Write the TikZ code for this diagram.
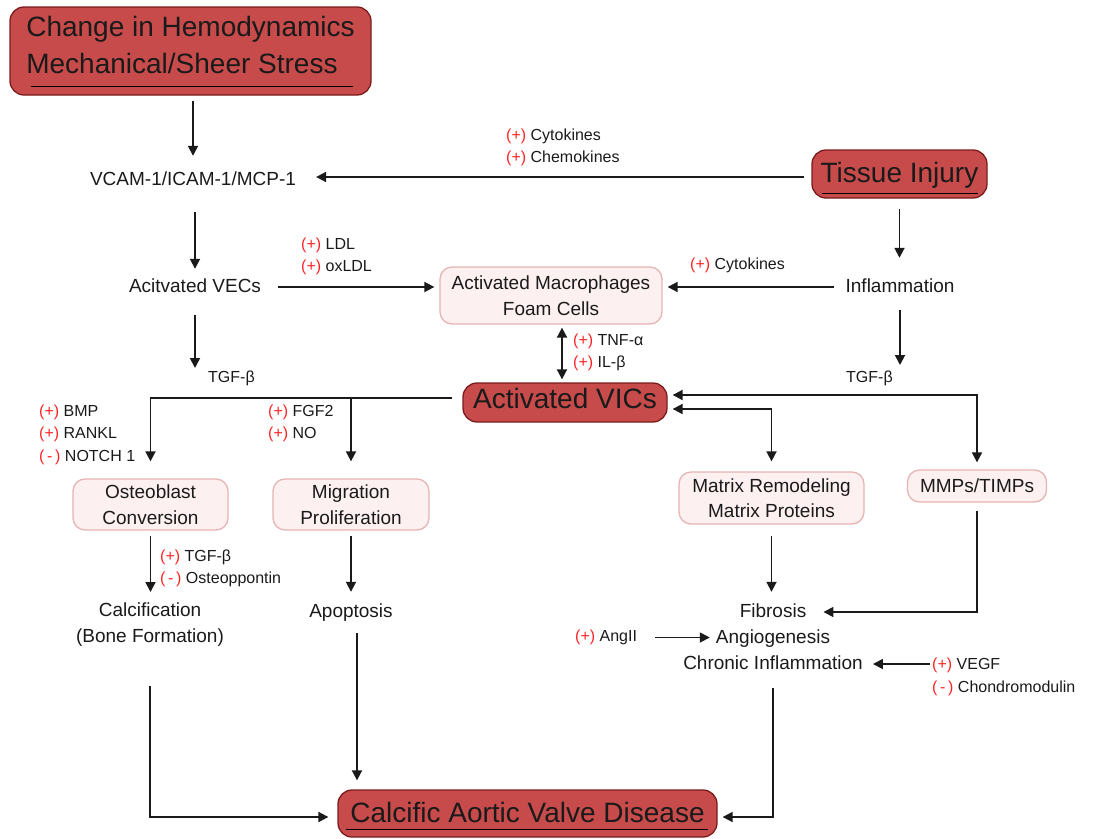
\documentclass[tikz,border=0pt]{standalone}
\usepackage{fontspec}
\setmainfont{Liberation Sans}
\usetikzlibrary{arrows.meta,positioning}

\definecolor{vicred}{HTML}{C84B4B}
\definecolor{vicedge}{HTML}{7B1C1C}
\definecolor{palefill}{HTML}{FDF0F0}
\definecolor{paleedge}{HTML}{E6B4B4}
\definecolor{signred}{HTML}{FF2424}
\definecolor{ink}{HTML}{1A1A1A}

\newcommand{\upreg}{\textcolor{signred}{(+)}}
\newcommand{\downreg}{\textcolor{signred}{(\,-\,)}}

\begin{document}
\begin{tikzpicture}[x=1pt, y=-1pt,
  every node/.style={text=ink},
  bigbox/.style={draw=vicedge, fill=vicred, line width=1.3pt, rounded corners=14pt,
    font=\fontsize{28}{36.7}\selectfont, align=center, inner sep=0pt},
  palebox/.style={draw=paleedge, fill=palefill, line width=1.3pt, rounded corners=12pt,
    font=\fontsize{19}{25.5}\selectfont, align=center, inner sep=0pt},
  txt/.style={font=\fontsize{19}{26}\selectfont, align=center, inner xsep=3pt, inner ysep=3pt,
    text height=14pt, text depth=4pt},
  sign/.style={font=\fontsize{16}{22.5}\selectfont, align=left, anchor=west, inner sep=0pt},
  arr/.style={-{Triangle[length=10pt,width=10pt]}, line width=1.8pt, draw=ink},
  dbl/.style={{Triangle[length=10pt,width=10pt]}-{Triangle[length=10pt,width=10pt]}, line width=1.8pt, draw=ink},
  uline/.style={line width=1.6pt, draw=black}
]
\useasboundingbox (0,0) rectangle (1100,838);

% red boxes
\node[bigbox, align=left, minimum width=361pt, minimum height=88pt, text depth=11.7pt] (hemo) at (190.5,51) {Change in Hemodynamics\\Mechanical/Sheer Stress};
\node[bigbox, minimum width=175pt, minimum height=48pt, text depth=2.4pt] (injury) at (899.5,174) {Tissue Injury};
\node[bigbox, minimum width=204pt, minimum height=39pt, text depth=7.4pt] (vics) at (565,402.5) {Activated VICs};
\node[bigbox, minimum width=379pt, minimum height=47pt, text depth=1.4pt] (cavd) at (527.5,813.5) {Calcific Aortic Valve Disease};

\draw[uline] ([xshift=22pt, yshift=9pt]hemo.south west) -- ([xshift=-19pt, yshift=9pt]hemo.south east);
\draw[uline] ([xshift=11pt, yshift=5pt]injury.south west) -- ([xshift=-10pt, yshift=5pt]injury.south east);
\draw[uline] ([xshift=9pt, yshift=8pt]cavd.south west) -- ([xshift=-10pt, yshift=8pt]cavd.south east);

% pale boxes
\node[palebox, minimum width=222pt, minimum height=57pt] (macro) at (551,295.5) {Activated Macrophages\\Foam Cells};
\node[palebox, minimum width=155pt, minimum height=51pt] (osteo) at (150.5,504.5) {Osteoblast\\Conversion};
\node[palebox, minimum width=156pt, minimum height=51pt] (migr) at (351,504.5) {Migration\\Proliferation};
\node[palebox, minimum width=185pt, minimum height=52pt] (matrix) at (771.5,498) {Matrix Remodeling\\Matrix Proteins};
\node[palebox, minimum width=139pt, minimum height=32pt] (mmps) at (977,486) {MMPs/TIMPs};

% plain steps
\node[txt] (vcam) at (193,180) {VCAM-1/ICAM-1/MCP-1};
\node[txt] (vecs) at (195,287) {Acitvated VECs};
\node[txt] (inflam) at (900,287) {Inflammation};
\node[txt, text height=, text depth=, anchor=north] (calc) at (150,600) {Calcification\\(Bone Formation)};
\node[txt] (apop) at (351,612) {Apoptosis};
\node[txt] (fib) at (773,612) {Fibrosis};
\node[txt] (angio) at (773,638) {Angiogenesis};
\node[txt] (chronic) at (773,664) {Chronic Inflammation};

% signals
\node[sign] (cytochemo) at (506,147.5) {\upreg\ Cytokines\\\upreg\ Chemokines};
\node[sign] (ldl) at (301,256.5) {\upreg\ LDL\\\upreg\ oxLDL};
\node[sign] (cyto) at (690,265.5) {\upreg\ Cytokines};
\node[sign] (tnf) at (573,352.5) {\upreg\ TNF-α\\\upreg\ IL-β};
\node[sign] (tgfl) at (208,378) {TGF-β};
\node[sign] (tgfr) at (846,378) {TGF-β};
\node[sign] (bmp) at (39,434.5) {\upreg\ BMP\\\upreg\ RANKL\\\downreg\ NOTCH 1};
\node[sign] (fgf) at (268,423.5) {\upreg\ FGF2\\\upreg\ NO};
\node[sign] (tgfo) at (160,568.5) {\upreg\ TGF-β\\\downreg\ Osteoppontin};
\node[sign] (angii) at (575,637.5) {\upreg\ AngII};
\node[sign] (vegf) at (932,677) {\upreg\ VEGF\\\downreg\ Chondromodulin};

\coordinate (injin) at ([yshift=-3pt]injury.west);
\coordinate (mvtop) at ([xshift=11pt]macro.south);
\coordinate (vecsend) at (195,368);
\coordinate (inflamend) at (900,365);
\coordinate (vicsl) at ([yshift=4.5pt]vics.west);
\coordinate (vicsr1) at ([yshift=7.5pt]vics.east);
\coordinate (vicsr2) at ([yshift=-6.5pt]vics.east);
\coordinate (cavdl) at ([yshift=-3.5pt]cavd.west);
\coordinate (cavdr) at ([yshift=-3.5pt]cavd.east);
\coordinate (apopout) at ([xshift=6pt]apop.south);

% connectors
\draw[arr, shorten <=5pt, shorten >=12pt] (hemo.south -| vcam.north) -- (vcam.north);
\draw[arr, shorten <=7pt, shorten >=17pt] (injin) -- (injin -| vcam.east);
\draw[arr, shorten <=20pt, shorten >=6pt] (vecs.north |- vcam.south) -- (vecs.north);
\draw[arr, shorten <=10pt, shorten >=17pt] (injury.south) -- (injury.south |- inflam.north);
\draw[arr, shorten <=14pt, shorten >=5pt] (vecs.east) -- (vecs.east -| macro.west);
\draw[arr, shorten <=8pt, shorten >=5pt] (inflam.west) -- (inflam.west -| macro.east);
\draw[dbl, shorten <=3pt, shorten >=3pt] (mvtop) -- (mvtop |- vics.north);
\draw[arr, shorten <=16pt] (vecs.south) -- (vecsend);
\draw[arr, shorten <=11pt] (inflam.south) -- (inflamend);
\draw[arr, shorten <=10pt, shorten >=17pt] (vicsl) -| (osteo.north);
\draw[arr, shorten >=17pt] (vicsl -| migr.north) -- (migr.north);
\draw[dbl, shorten <=5pt, shorten >=7pt] (vicsr1) -| (mmps.north);
\draw[dbl, shorten <=5pt, shorten >=10pt] (vicsr2) -| (matrix.north);
\draw[arr, shorten <=5pt, shorten >=8pt] (osteo.south) -- (osteo.south |- calc.north);
\draw[arr, shorten <=5pt, shorten >=8pt] (migr.south) -- (migr.south |- apop.north);
\draw[arr, shorten <=11pt, shorten >=8pt] (matrix.south) -- (matrix.south |- fib.north);
\draw[arr, shorten <=8pt, shorten >=14pt] (mmps.south) |- (fib.east);
\draw[arr, shorten <=18pt, shorten >=3pt] (angii.east) -- (angii.east -| angio.west);
\draw[arr, shorten <=2pt, shorten >=7pt] (chronic -| vegf.west) -- (chronic.east);
\draw[arr, shorten <=36pt, shorten >=9pt] (calc.south) |- (cavdl);
\draw[arr, shorten <=9pt, shorten >=9pt] (apopout) -- (apopout |- cavd.north);
\draw[arr, shorten <=12pt, shorten >=5pt] (chronic.south) |- (cavdr);
\end{tikzpicture}
\end{document}
